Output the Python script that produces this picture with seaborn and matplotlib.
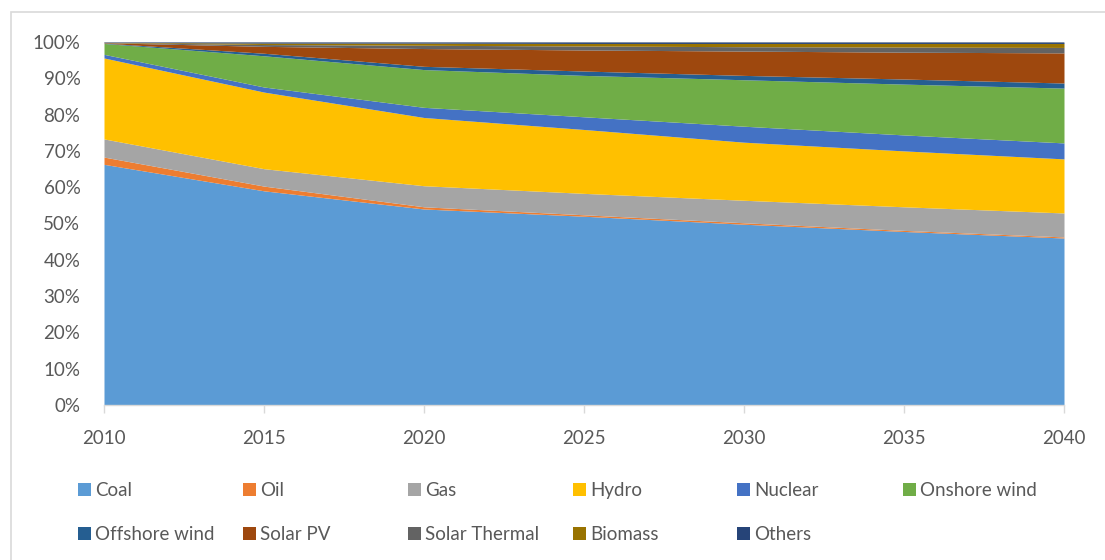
import numpy as np
import pandas as pd
import matplotlib
matplotlib.use("Agg")
import matplotlib.pyplot as plt
from matplotlib.patches import Rectangle
import seaborn as sns

years = [2010, 2015, 2020, 2025, 2030, 2035, 2040]
coal = [66.3, 59.0, 54.0, 52.0, 49.8, 47.8, 46.0]
oil = [2.0, 1.3, 0.6, 0.4, 0.4, 0.3, 0.3]
gas = [5.0, 4.8, 5.8, 5.9, 6.2, 6.5, 6.6]
hydro = [22.3, 21.1, 18.8, 17.6, 16.0, 15.4, 14.9]
nuclear = [1.0, 1.4, 2.8, 3.5, 4.4, 4.4, 4.4]
onshore_wind = [3.0, 8.6, 10.4, 11.4, 12.8, 14.0, 15.1]
offshore_wind = [0.1, 0.7, 0.9, 1.2, 1.2, 1.4, 1.4]
solar_pv = [0.1, 1.9, 4.9, 5.8, 6.7, 7.4, 8.3]
solar_thermal = [0.05, 0.5, 0.9, 1.1, 1.2, 1.4, 1.5]
biomass = [0.05, 0.4, 0.6, 0.7, 0.9, 1.0, 1.1]
others = [0.1, 0.3, 0.3, 0.4, 0.4, 0.4, 0.4]

labels = ["Coal", "Oil", "Gas", "Hydro", "Nuclear", "Onshore wind",
          "Offshore wind", "Solar PV", "Solar Thermal", "Biomass", "Others"]
colors = ["#5B9BD5", "#ED7D31", "#A5A5A5", "#FFC000", "#4472C4", "#70AD47",
          "#255E91", "#9E480E", "#636363", "#997300", "#264478"]

df = pd.DataFrame({"Year": years, "Coal": coal, "Oil": oil, "Gas": gas, "Hydro": hydro,
                   "Nuclear": nuclear, "Onshore wind": onshore_wind,
                   "Offshore wind": offshore_wind, "Solar PV": solar_pv,
                   "Solar Thermal": solar_thermal, "Biomass": biomass, "Others": others})
vals = df[labels].to_numpy(dtype=float)
shares = vals / vals.sum(axis=1, keepdims=True)

sns.set_theme(style="white")
plt.rcParams["font.family"] = ["Lato", "DejaVu Sans"]

W, H = 1105, 560
fig = plt.figure(figsize=(W / 100, H / 100), dpi=100)
ax = fig.add_axes([104 / W, 1 - 405 / H, (1064 - 104) / W, (405 - 42) / H])

ax.stackplot(df["Year"], shares.T, colors=colors, labels=labels, linewidth=0)

ax.set_xlim(2010, 2040)
ax.set_ylim(0, 1)
ax.set_xticks(years)
ax.set_yticks(np.linspace(0, 1, 11))
ax.set_yticklabels([f"{int(round(v*100))}%" for v in np.linspace(0, 1, 11)])
for s in ["left", "right", "top"]:
    ax.spines[s].set_visible(False)
ax.spines["bottom"].set_color("#D9D9D9")
ax.spines["bottom"].set_linewidth(1.0)
ax.axhline(1.0, color="#D9D9D9", lw=1.0, zorder=0)
ax.tick_params(axis="x", which="both", bottom=True, length=6, width=1.0,
               color="#D9D9D9", labelsize=13.5, labelcolor="#595959", pad=12)
ax.tick_params(axis="y", length=0, labelsize=13.5, labelcolor="#595959", pad=17)
ax.grid(False)

# chart border (Excel frame)
fig.add_artist(Rectangle((11 / W, -0.01), 1.1, 1 - 12 / H + 0.01, transform=fig.transFigure,
                         fill=False, edgecolor="#D9D9D9", lw=1.2))

# legend
col_x = [78, 243, 408, 573, 737, 903]
row_y = [489, 533]
sq = 13
for i, (lab, col) in enumerate(zip(labels, colors)):
    r, c = divmod(i, 6)
    x0 = col_x[c]
    yc = row_y[r]
    fig.add_artist(Rectangle((x0 / W, 1 - (yc + sq / 2) / H), sq / W, sq / H,
                             transform=fig.transFigure, facecolor=col, edgecolor="none"))
    fig.text((x0 + sq + 4) / W, 1 - yc / H, lab, ha="left", va="center_baseline",
             fontsize=13.5, color="#595959")

fig.savefig("out.png", dpi=100)
